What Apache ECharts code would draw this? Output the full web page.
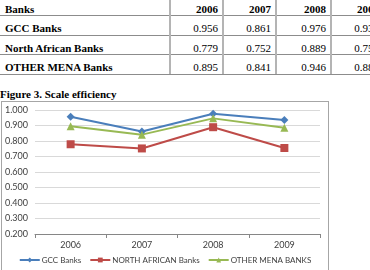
<!DOCTYPE html>
<html><head><meta charset="utf-8">
<script src="https://cdn.jsdelivr.net/npm/echarts@6/dist/echarts.min.js"></script>
<style>
html,body{margin:0;padding:0;width:370px;height:270px;overflow:hidden;background:#fff;position:relative;}
.t{position:absolute;font-family:"Liberation Serif",serif;font-size:11px;color:#000;white-space:nowrap;line-height:16px;height:16px;}
.b{font-weight:bold;}
.hl{position:absolute;left:0;width:370px;height:1px;background:#8c8c8c;}
.vl{position:absolute;top:-5px;height:79px;width:2px;background:#b4b4b4;}
#cap{position:absolute;left:0;top:86px;font-family:"Liberation Serif",serif;font-weight:bold;font-size:11px;line-height:16px;}
#chartbox{position:absolute;left:1px;top:101px;width:326px;height:172px;border:1px solid #a6a6a6;}
#chart{width:326px;height:172px;}
</style></head>
<body>
<div id="cap">Figure 3. Scale efficiency</div>
<div id="chartbox"><div id="chart"></div></div>
<script>
const years = ['2006','2007','2008','2009'];
const seriesNames = ['GCC Banks','NORTH AFRICAN Banks','OTHER MENA BANKS'];
const tableRowNames = ['GCC Banks','North African Banks','OTHER MENA Banks'];
const gcc = [0.956, 0.861, 0.976, 0.935];
const northAfrican = [0.779, 0.752, 0.889, 0.755];
const otherMena = [0.895, 0.841, 0.946, 0.885];
const yTicks = ['0.200','0.300','0.400','0.500','0.600','0.700','0.800','0.900','1.000'];

// table
const rowsData = [gcc, northAfrican, otherMena];
const textY = [9, 28, 48, 67];
const lineY = [15, 35, 54, 74];
const vlines = [170, 223, 276, 331];
function add(cls, style, txt){const d=document.createElement('div');d.className=cls;Object.assign(d.style,style);if(txt!==undefined)d.textContent=txt;document.body.appendChild(d);return d;}
lineY.forEach(y=>add('hl',{top:y+'px'}));
vlines.forEach(x=>add('vl',{left:(x-1)+'px'}));
add('t b',{left:'5px',top:(textY[0]-8)+'px'},'Banks');
years.forEach((yr,i)=>{
  const rightEdge = (i<3? vlines[i+1] : 384) - 5;
  add('t b',{right:(370-rightEdge)+'px',top:(textY[0]-8)+'px'},yr);
});
rowsData.forEach((arr,r)=>{
  add('t b',{left:'5px',top:(textY[r+1]-8)+'px'},tableRowNames[r]);
  arr.forEach((v,i)=>{
    const rightEdge = (i<3? vlines[i+1] : 384) - 5;
    add('t',{right:(370-rightEdge)+'px',top:(textY[r+1]-8)+'px'},v.toFixed(3));
  });
});

const chart = echarts.init(document.getElementById('chart'));
const font = 'Lato, sans-serif';
const colors = ['#4a7ebb','#be4b48','#98b954'];
const symbols = ['diamond','rect','triangle'];
const sizes = [8,8,8];
chart.setOption({
  animation:false,
  color: colors,
  grid:{left:33,top:8,width:285,height:124,containLabel:false},
  legend:{
    top:154, left:'center', width:326, padding:0, itemWidth:20, itemHeight:6, itemGap:8,
    textStyle:{fontFamily:font,fontSize:8,color:'#404040',padding:[0,0,0,-3]},
    data: seriesNames
  },
  xAxis:{
    type:'category', data:years, boundaryGap:true,
    axisLine:{lineStyle:{color:'#868686',width:1}},
    axisTick:{show:true,length:4,alignWithLabel:false,lineStyle:{color:'#868686'}},
    axisLabel:{fontFamily:font,fontSize:9,color:'#404040',margin:7}
  },
  yAxis:{
    type:'value', min:0.2, max:1.0, interval:0.1,
    axisLine:{show:false}, axisTick:{show:false},
    axisLabel:{fontFamily:font,fontSize:9,color:'#404040',margin:7,
      formatter:(v)=>{const s=v.toFixed(3);return yTicks.includes(s)?s:'';}},
    splitLine:{lineStyle:{color:'#d9d9d9',width:1}}
  },
  series:[gcc,northAfrican,otherMena].map((d,i)=>({
    name:seriesNames[i], type:'line', data:d, symbol:symbols[i], symbolSize:sizes[i],
    lineStyle:{width:2,color:colors[i]}, itemStyle:{color:colors[i]}
  }))
});
</script>
</body></html>
